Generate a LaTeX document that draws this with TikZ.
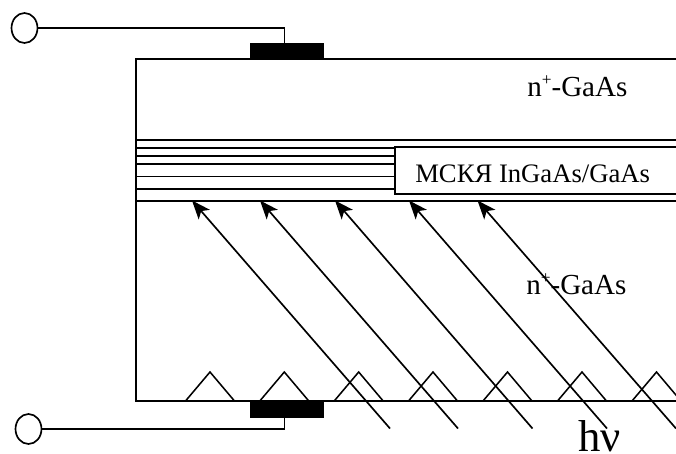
\documentclass[tikz,border=0pt]{standalone}
\usepackage{fontspec}
\setmainfont{Liberation Serif}
\usetikzlibrary{arrows.meta,shapes.geometric}
\newcommand{\nplus}{n\raisebox{0.36em}{\fontsize{13}{13}\selectfont +}-GaAs}
\tikzset{
  wire/.style={line width=1.35pt,black},
  terminal/.style={ellipse,draw,line width=1.25pt,minimum width=19.5pt,minimum height=22.5pt,inner sep=0pt,fill=white},
  contact/.style={rectangle,fill=black,draw=none,minimum width=55.5pt,minimum height=12.5pt,inner sep=0pt},
  label/.style={inner sep=0pt,anchor=base west,font=\fontsize{21.8}{22}\selectfont},
  ray/.style={line width=1.25pt,black,{Stealth[length=14pt,width=11pt,inset=3.5pt]}-},
  bump/.style={line width=1.15pt,black}
}
\begin{document}
\begin{tikzpicture}[x=0.75pt,y=-0.75pt]
\useasboundingbox (0,0) rectangle (676,454);
\clip (0,0) rectangle (676,454);
% triangles on the lower surface
\foreach \c in {210,284.3,358.7,433,507.5,582,656.5}
  \draw[bump] (\c-24.5,401) -- (\c,372) -- (\c+24.5,401);
% body
\coordinate (bodyTL) at (136,59);
\coordinate (bodyTR) at (677,59);
\coordinate (bodyBL) at (136,401);
\coordinate (bodyBR) at (677,401);
\draw[wire] (bodyTR) -- (bodyTL) -- (bodyBL) -- (bodyBR);
% layers
\foreach \y in {140,201}
  \draw[wire] (136,\y) -- (677,\y);
\foreach \y in {148,156,164,176.5,188.7}
  \draw[wire] (136,\y) -- (395,\y);
% MQW label box (open on the right)
\draw[wire,fill=white] (677,147) -- (395,147) -- (395,194) -- (677,194);
\node[label] (mqw) at (415,182) {\fontsize{20}{20}\selectfont МСКЯ InGaAs/GaAs};
\node[label] (top) at (527,96) {\nplus};
\node[label] (bottom) at (526,294) {\nplus};
% contacts and terminals
\node[contact] (c1) at (287,51.5) {};
\node[contact] (c2) at (287,409.5) {};
\node[terminal] (t1) at (24.5,28) {};
\node[terminal] (t2) at (28.5,429) {};
\coordinate (c1t) at (284.5,44);
\coordinate (c2b) at (284.5,418);
\draw[wire] (t1.east) -| (c1t);
\draw[wire] (t2.east) -| (c2b);
% rays
\foreach \i/\hx/\tx in {1/192/390,2/260/458,3/335/532.5,4/409/607,5/477.5/676}{
  \coordinate (h\i) at (\hx,200.5);
  \coordinate (s\i) at (\tx,428.5);
  \draw[ray] (h\i) -- (s\i);
}
\node[inner sep=0pt,anchor=base west,font=\fontsize{33.5}{34}\selectfont] (hv) at (578,451) {hν};
\end{tikzpicture}
\end{document}
